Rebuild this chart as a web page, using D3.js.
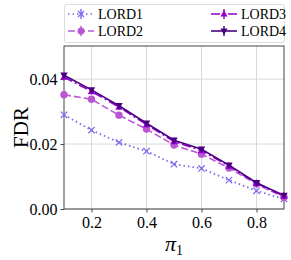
<!DOCTYPE html>
<html>
<head>
<meta charset="utf-8">
<script src="https://cdn.jsdelivr.net/npm/d3@7"></script>
<style>
  body { margin: 0; background: #fff; }
  svg, svg text { font-family: 'Liberation Serif', 'Times New Roman', Times, serif; }
</style>
</head>
<body>
<div id="chart"></div>
<script>
// values
const pi1 = [0.1, 0.2, 0.3, 0.4, 0.5, 0.6, 0.7, 0.8, 0.9]
const lord1 = [0.0290, 0.0243, 0.0205, 0.0178, 0.0138, 0.0125, 0.0089, 0.0056, 0.0031]
const lord2 = [0.0352, 0.0338, 0.0289, 0.0246, 0.0197, 0.0169, 0.0126, 0.0077, 0.0036]
const lord3 = [0.0406, 0.0362, 0.0314, 0.0260, 0.0208, 0.0180, 0.0132, 0.0079, 0.0040]
const lord4 = [0.0412, 0.0367, 0.0318, 0.0264, 0.0212, 0.0184, 0.0135, 0.0081, 0.0042]
const xTicks = [0.2, 0.4, 0.6, 0.8]
const yTicks = [0.00, 0.02, 0.04]

const series = [
    {name: "LORD1", values: lord1, color: "#7b68ee", dash: "1.5,3", marker: "x"},
    {name: "LORD2", values: lord2, color: "#ba55d3", dash: "7,3", marker: "o"},
    {name: "LORD3", values: lord3, color: "#9400d3", dash: "9,3,2,3", marker: "^"},
    {name: "LORD4", values: lord4, color: "#4b0082", dash: null, marker: "v"}
]

const W = 291, H = 260
const margin = {top: 46, right: 7, bottom: 51, left: 64}
const width = W - margin.left - margin.right
const height = H - margin.top - margin.bottom
const serif = "'Liberation Serif', 'Times New Roman', serif"

const svg = d3.select("#chart").append("svg")
    .attr("width", W)
    .attr("height", H)

const g = svg.append("g")
    .attr("transform", "translate(" + margin.left + "," + margin.top + ")")

const x = d3.scaleLinear().domain([0.1, 0.9]).range([0, width])
const y = d3.scaleLinear().domain([0, 0.0502]).range([height, 0])

// grid
g.append("g").selectAll("line").data(xTicks).enter().append("line")
    .attr("x1", d => x(d)).attr("x2", d => x(d))
    .attr("y1", 0).attr("y2", height)
    .attr("stroke", "#d9d9d9").attr("stroke-width", 1)
g.append("g").selectAll("line").data(yTicks).enter().append("line")
    .attr("x1", 0).attr("x2", width)
    .attr("y1", d => y(d)).attr("y2", d => y(d))
    .attr("stroke", "#d9d9d9").attr("stroke-width", 1)

// axes
const xAxis = g.append("g")
    .attr("transform", "translate(0," + height + ")")
    .call(d3.axisBottom(x).tickValues(xTicks).tickFormat(d3.format(".1f")).tickSize(3.5).tickPadding(4))
const yAxis = g.append("g")
    .call(d3.axisLeft(y).tickValues(yTicks).tickFormat(d3.format(".2f")).tickSize(3.5).tickPadding(3))
;[xAxis, yAxis].forEach(a => {
    a.attr("font-family", serif).attr("font-size", 16)
    a.select(".domain").remove()
    a.selectAll("line").attr("stroke", "#444")
    a.selectAll("text").attr("fill", "#000")
})

// frame
g.append("rect")
    .attr("width", width).attr("height", height)
    .attr("fill", "none").attr("stroke", "#444").attr("stroke-width", 1)

const line = d3.line()
    .x((d, i) => x(pi1[i]))
    .y(d => y(d))

function drawMarker(sel, type, color, cx, cy, s) {
    if (type === "x") {
        sel.append("path")
            .attr("d", `M${cx - s},${cy - s}L${cx + s},${cy + s}M${cx - s},${cy + s}L${cx + s},${cy - s}`)
            .attr("stroke", color).attr("stroke-width", 1.2).attr("fill", "none")
    } else if (type === "o") {
        sel.append("circle").attr("cx", cx).attr("cy", cy).attr("r", s + 0.5).attr("fill", color)
    } else if (type === "^") {
        sel.append("path")
            .attr("d", `M${cx},${cy - s - 1}L${cx + s + 0.5},${cy + s - 0.5}L${cx - s - 0.5},${cy + s - 0.5}Z`)
            .attr("fill", color)
    } else {
        sel.append("path")
            .attr("d", `M${cx},${cy + s + 1}L${cx + s + 0.5},${cy - s + 0.5}L${cx - s - 0.5},${cy - s + 0.5}Z`)
            .attr("fill", color)
    }
}

const plot = g.append("g")
series.forEach(s => {
    plot.append("path")
        .datum(s.values)
        .attr("fill", "none")
        .attr("stroke", s.color)
        .attr("stroke-width", s.marker === "x" ? 1.8 : 1.6)
        .attr("stroke-dasharray", s.dash)
        .attr("d", line)
    s.values.forEach((v, i) => {
        drawMarker(plot, s.marker, s.color, x(pi1[i]), y(v), 3.2)
    })
})

// axis labels
svg.append("text")
    .attr("x", margin.left + x(0.5))
    .attr("y", 251)
    .attr("text-anchor", "middle")
    .attr("font-family", serif)
    .attr("font-size", 22)
    .attr("font-style", "italic")
    .html("π<tspan font-size='14' font-style='normal' dy='4'>1</tspan>")

svg.append("text")
    .attr("transform", "translate(28," + (margin.top + height / 2) + ") rotate(-90)")
    .attr("text-anchor", "middle")
    .attr("font-family", serif)
    .attr("font-size", 21)
    .text("FDR")

// legend
const legend = svg.append("g")
legend.append("rect")
    .attr("x", 64.5).attr("y", 4.5).attr("width", 220).attr("height", 38).attr("rx", 2.5)
    .attr("fill", "#fff").attr("stroke", "#ddd")
const legPos = [[68, 14], [68, 31], [211, 14], [211, 31]]
series.forEach((s, i) => {
    const [lx, ly] = legPos[i]
    const item = legend.append("g")
    item.append("line")
        .attr("x1", lx).attr("x2", lx + 26).attr("y1", ly).attr("y2", ly)
        .attr("stroke", s.color).attr("stroke-width", 1.6)
        .attr("stroke-dasharray", s.dash)
    item.append("line")
        .attr("x1", lx + 13).attr("x2", lx + 13).attr("y1", ly - 5).attr("y2", ly + 5)
        .attr("stroke", s.color).attr("stroke-width", 1.4)
    drawMarker(item, s.marker, s.color, lx + 13, ly, 3)
    item.append("text")
        .attr("x", lx + 30).attr("y", ly + 5)
        .attr("font-family", serif)
        .attr("font-size", 14)
        .text(s.name)
})
</script>
</body>
</html>
